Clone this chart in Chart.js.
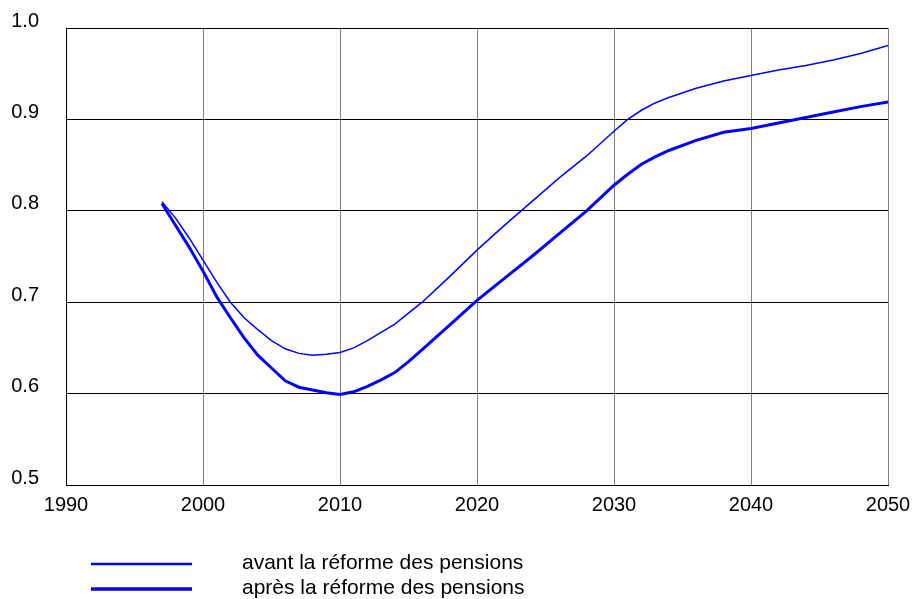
<!DOCTYPE html>
<html>
<head>
<meta charset="utf-8">
<script src="https://cdn.jsdelivr.net/npm/chart.js@4.4.1/dist/chart.umd.min.js"></script>
<style>
  html, body { margin: 0; padding: 0; background: #fff; }
  #wrap { width: 914px; height: 599px; position: relative; }
</style>
</head>
<body>
<div id="wrap"><canvas id="myChart" width="914" height="599"></canvas></div>
<script>
const years = [1997, 1998, 1999, 2000, 2001, 2002, 2003, 2004, 2005, 2006, 2007, 2008, 2009,
  2010, 2011, 2012, 2013, 2014, 2015, 2016, 2018, 2020, 2022, 2024, 2026, 2028,
  2030, 2031, 2032, 2033, 2034, 2036, 2038, 2040, 2042, 2044, 2046, 2048, 2050];

const avant = [0.810, 0.792, 0.770, 0.746, 0.722, 0.700, 0.683, 0.670, 0.658, 0.649, 0.644, 0.642, 0.643,
  0.645, 0.650, 0.658, 0.667, 0.676, 0.688, 0.700, 0.728, 0.757, 0.784, 0.810, 0.836, 0.860,
  0.887, 0.900, 0.910, 0.918, 0.924, 0.934, 0.942, 0.948, 0.954, 0.959, 0.965, 0.972, 0.981];

const apres = [0.808, 0.784, 0.760, 0.734, 0.706, 0.683, 0.661, 0.642, 0.628, 0.614, 0.607, 0.604, 0.601,
  0.599, 0.602, 0.608, 0.615, 0.623, 0.635, 0.648, 0.675, 0.702, 0.726, 0.750, 0.775, 0.800,
  0.828, 0.840, 0.851, 0.859, 0.866, 0.877, 0.886, 0.890, 0.896, 0.902, 0.908, 0.914, 0.919];

const seriesLabels = ["avant la réforme des pensions", "après la réforme des pensions"];

const xTicks = [1990, 2000, 2010, 2020, 2030, 2040, 2050];
const yTicks = [0.5, 0.6, 0.7, 0.8, 0.9, 1.0];

const FONT = "'Liberation Sans', Arial, sans-serif";

const toPoints = (vals) => years.map((y, i) => ({ x: y, y: vals[i] }));

// legend drawn by hand under the plot
const legendPlugin = {
  id: "bottomLegend",
  afterDraw: (chart) => {
    const ctx = chart.ctx;
    const rows = [
      { y: 564, width: 2.5, text: seriesLabels[0] },
      { y: 589, width: 3.5, text: seriesLabels[1] },
    ];
    ctx.save();
    ctx.font = "21px " + FONT;
    ctx.textBaseline = "middle";
    ctx.fillStyle = "#000";
    rows.forEach((r) => {
      ctx.strokeStyle = "#0000ff";
      ctx.lineWidth = r.width;
      ctx.beginPath();
      ctx.moveTo(91, r.y);
      ctx.lineTo(192, r.y);
      ctx.stroke();
      ctx.fillText(r.text, 242, r.y - 1);
    });
    ctx.restore();
  },
};

const data = {
  datasets: [
    {
      label: seriesLabels[0],
      data: toPoints(avant),
      borderColor: "#0000ff",
      borderWidth: 1.5,
      pointRadius: 0,
      tension: 0,
    },
    {
      label: seriesLabels[1],
      data: toPoints(apres),
      borderColor: "#0000ff",
      borderWidth: 3,
      pointRadius: 0,
      tension: 0,
    },
  ],
};

const config = {
  type: "line",
  data: data,
  plugins: [legendPlugin],
  options: {
    responsive: false,
    animation: false,
    layout: { padding: { top: 28, right: 26, left: 0, bottom: 0 } },
    plugins: {
      legend: { display: false },
      tooltip: { enabled: false },
    },
    scales: {
      x: {
        type: "linear",
        min: 1990,
        max: 2050,
        afterFit: (scale) => {
          scale.height = 114;
          scale.paddingLeft = 0;
          scale.paddingRight = 0;
        },
        afterBuildTicks: (scale) => { scale.ticks = xTicks.map((v) => ({ value: v })); },
        grid: { color: "#808080", lineWidth: 1, drawTicks: false },
        border: { color: "#000", width: 1 },
        ticks: {
          color: "#000",
          padding: 8,
          font: { family: FONT, size: 20 },
          callback: (v) => String(v),
        },
      },
      y: {
        min: 0.5,
        max: 1.0,
        afterFit: (scale) => {
          scale.width = 66;
          scale.paddingTop = 0;
          scale.paddingBottom = 0;
        },
        afterBuildTicks: (scale) => { scale.ticks = yTicks.map((v) => ({ value: v })); },
        grid: { color: "#000", lineWidth: 1, drawTicks: false },
        border: { color: "#000", width: 1 },
        ticks: {
          color: "#000",
          padding: 27,
          labelOffset: -7,
          font: { family: FONT, size: 20 },
          callback: (v) => v.toFixed(1),
        },
      },
    },
  },
};

const myChart = new Chart(document.getElementById("myChart"), config);
</script>
</body>
</html>
